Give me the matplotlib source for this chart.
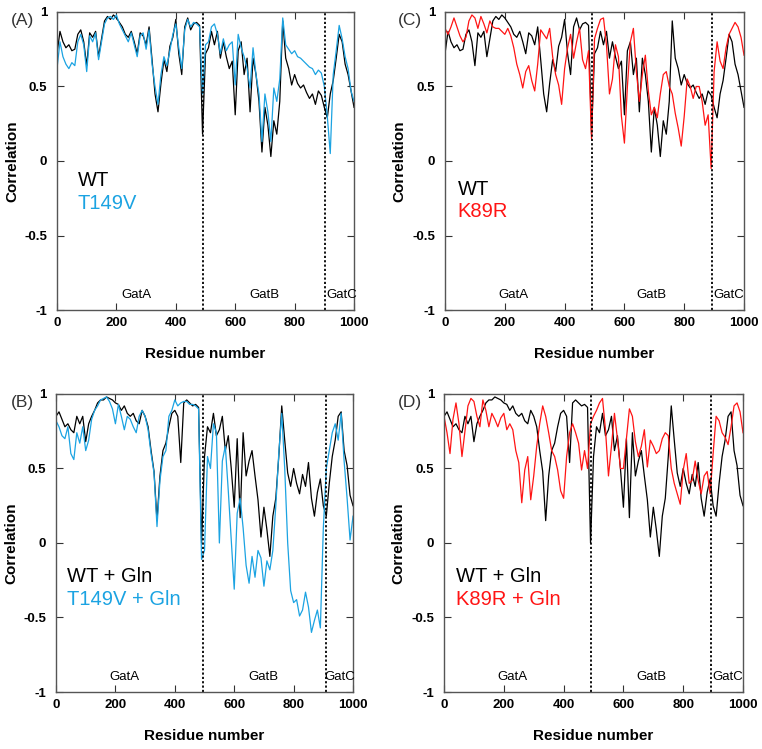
import numpy as np
import matplotlib
matplotlib.use("Agg")
import matplotlib.pyplot as plt

plt.rcParams['font.family'] = ['Liberation Sans', 'DejaVu Sans']

# residue positions (sampled every 10 residues)
residue = np.arange(0, 1001, 10)

wt = [0.72, 0.87, 0.80, 0.76, 0.78, 0.74, 0.75, 0.85, 0.88, 0.80,
      0.64, 0.86, 0.83, 0.87, 0.70, 0.82, 0.94, 0.97, 0.95, 0.98,
      0.96, 0.93, 0.90, 0.85, 0.83, 0.87, 0.80, 0.72, 0.86, 0.84,
      0.78, 0.90, 0.68, 0.45, 0.33, 0.52, 0.68, 0.60, 0.77, 0.83,
      0.95, 0.72, 0.58, 0.90, 0.96, 0.88, 0.92, 0.93, 0.91, 0.18,
      0.72, 0.76, 0.87, 0.78, 0.87, 0.69, 0.80, 0.70, 0.62, 0.67,
      0.31, 0.74, 0.80, 0.58, 0.69, 0.33, 0.69, 0.58, 0.40, 0.06,
      0.36, 0.24, 0.03, 0.27, 0.18, 0.40, 0.94, 0.69, 0.62, 0.51,
      0.58, 0.52, 0.49, 0.51, 0.46, 0.42, 0.45, 0.38, 0.47, 0.44,
      0.36, 0.29, 0.45, 0.54, 0.69, 0.85, 0.80, 0.65, 0.58, 0.47,
      0.36]

t149v = [0.62, 0.80, 0.70, 0.65, 0.62, 0.66, 0.64, 0.80, 0.85, 0.78,
         0.60, 0.84, 0.80, 0.86, 0.68, 0.80, 0.92, 0.96, 0.97, 0.95,
         0.98, 0.92, 0.88, 0.84, 0.80, 0.86, 0.78, 0.70, 0.84, 0.86,
         0.75, 0.88, 0.65, 0.50, 0.38, 0.58, 0.70, 0.64, 0.74, 0.85,
         0.92, 0.76, 0.62, 0.88, 0.95, 0.90, 0.93, 0.92, 0.90, 0.45,
         0.78, 0.80, 0.90, 0.92, 0.85, 0.72, 0.82, 0.74, 0.78, 0.80,
         0.51, 0.85, 0.76, 0.70, 0.62, 0.49, 0.76, 0.58, 0.45, 0.13,
         0.45, 0.33, 0.13, 0.49, 0.40, 0.55, 0.96, 0.78, 0.75, 0.72,
         0.74, 0.70, 0.69, 0.67, 0.65, 0.63, 0.62, 0.58, 0.61, 0.59,
         0.50, 0.30, 0.05, 0.58, 0.74, 0.91, 0.82, 0.70, 0.62, 0.47,
         0.40]

k89r = [0.89, 0.85, 0.90, 0.96, 0.90, 0.84, 0.80, 0.83, 0.94, 0.98,
        0.96, 0.89, 0.97, 0.92, 0.86, 0.94, 0.90, 0.89, 0.89, 0.87,
        0.85, 0.89, 0.84, 0.76, 0.65, 0.58, 0.49, 0.60, 0.64, 0.54,
        0.47, 0.65, 0.88, 0.85, 0.82, 0.89, 0.70, 0.58, 0.51, 0.38,
        0.62, 0.76, 0.85, 0.69, 0.80, 0.89, 0.68, 0.62, 0.74, 0.15,
        0.82, 0.89, 0.95, 0.96, 0.78, 0.45, 0.55, 0.78, 0.70, 0.30,
        0.12, 0.50, 0.80, 0.89, 0.60, 0.40, 0.58, 0.71, 0.47, 0.31,
        0.36, 0.29, 0.45, 0.58, 0.60, 0.50, 0.45, 0.32, 0.22, 0.10,
        0.30, 0.55, 0.50, 0.42, 0.50, 0.50, 0.40, 0.24, 0.31, -0.05,
        0.60, 0.80, 0.67, 0.62, 0.76, 0.85, 0.89, 0.93, 0.90, 0.83,
        0.71]

wt_gln = [0.85, 0.88, 0.83, 0.78, 0.80, 0.76, 0.74, 0.85, 0.80, 0.85,
          0.68, 0.80, 0.85, 0.89, 0.94, 0.96, 0.96, 0.98, 0.97, 0.96,
          0.94, 0.93, 0.89, 0.92, 0.87, 0.85, 0.87, 0.82, 0.80, 0.89,
          0.85, 0.78, 0.62, 0.48, 0.15, 0.45, 0.62, 0.67, 0.78, 0.87,
          0.89, 0.85, 0.54, 0.94, 0.96, 0.94, 0.92, 0.93, 0.91, 0.00,
          0.58, 0.78, 0.74, 0.87, 0.72, 0.76, 0.85, 0.62, 0.72, 0.50,
          0.24, 0.70, 0.17, 0.74, 0.45, 0.55, 0.62, 0.45, 0.29, 0.04,
          0.24, 0.09, -0.09, 0.18, 0.30, 0.58, 0.92, 0.69, 0.47, 0.38,
          0.50, 0.40, 0.33, 0.46, 0.38, 0.54, 0.30, 0.18, 0.34, 0.43,
          0.25, 0.18, 0.40, 0.58, 0.69, 0.85, 0.88, 0.62, 0.52, 0.32,
          0.25]

t149v_gln = [0.82, 0.78, 0.72, 0.70, 0.78, 0.60, 0.56, 0.74, 0.67, 0.78,
             0.62, 0.69, 0.83, 0.89, 0.92, 0.96, 0.97, 0.98, 0.95, 0.90,
             0.80, 0.93, 0.85, 0.76, 0.85, 0.83, 0.78, 0.74, 0.85, 0.89,
             0.85, 0.76, 0.60, 0.47, 0.11, 0.42, 0.58, 0.62, 0.85, 0.89,
             0.96, 0.92, 0.94, 0.95, 0.95, 0.93, 0.93, 0.92, 0.90, -0.11,
             -0.05, 0.58, 0.50, 0.80, 0.74, 0.00, 0.55, 0.65, 0.35, 0.02,
             -0.31, 0.20, 0.30, 0.10, -0.15, -0.27, -0.09, -0.23, -0.05, -0.10,
             -0.29, -0.12, -0.18, -0.05, 0.25, 0.60, 0.87, 0.50, 0.00, -0.32,
             -0.40, -0.38, -0.49, -0.45, -0.33, -0.43, -0.60, -0.52, -0.45, -0.57,
             0.10, 0.50, 0.62, 0.74, 0.80, 0.69, 0.87, 0.55, 0.30, 0.02,
             0.18]

k89r_gln = [0.85, 0.74, 0.60, 0.83, 0.94, 0.80, 0.58, 0.75, 0.92, 0.97,
            0.95, 0.85, 0.78, 0.96, 0.89, 0.78, 0.87, 0.83, 0.78, 0.84,
            0.87, 0.76, 0.80, 0.76, 0.62, 0.54, 0.27, 0.49, 0.58, 0.29,
            0.45, 0.65, 0.80, 0.92, 0.85, 0.74, 0.62, 0.58, 0.49, 0.35,
            0.30, 0.58, 0.74, 0.80, 0.74, 0.67, 0.49, 0.62, 0.50, 0.80,
            0.85, 0.89, 0.94, 0.97, 0.76, 0.45, 0.65, 0.87, 0.70, 0.50,
            0.50, 0.70, 0.90, 0.85, 0.68, 0.58, 0.65, 0.76, 0.51, 0.69,
            0.65, 0.60, 0.62, 0.70, 0.74, 0.72, 0.50, 0.40, 0.33, 0.26,
            0.49, 0.60, 0.40, 0.42, 0.55, 0.42, 0.33, 0.45, 0.48, 0.33,
            0.60, 0.85, 0.82, 0.74, 0.71, 0.66, 0.78, 0.92, 0.94, 0.88,
            0.74]

BLUE = '#1ba3e2'
RED = '#ff1414'

fig = plt.figure(figsize=(7.62, 7.49), dpi=100)

panels = [
    # tag, rect, black series, colour series, colour, labels, boundaries,
    # domain label x, label y (axes frac), label x, tag position
    ('(A)', [0.0748, 0.5861, 0.3898, 0.3979], wt, t149v, BLUE,
     ('WT', 'T149V'), (492, 903), (266, 700, 908), (0.436, 0.359), 0.07, (0.030, 0.972)),
    ('(C)', [0.5840, 0.5861, 0.3924, 0.3979], wt, k89r, RED,
     ('WT', 'K89R'), (492, 893), (230, 692, 896), (0.406, 0.329), 0.043, (0.538, 0.972)),
    ('(B)', [0.0735, 0.0761, 0.3898, 0.3979], wt_gln, t149v_gln, BLUE,
     ('WT + Gln', 'T149V + Gln'), (496, 908), (231, 698, 904), (0.386, 0.309), 0.037, (0.030, 0.463)),
    ('(D)', [0.5827, 0.0761, 0.3924, 0.3979], wt_gln, k89r_gln, RED,
     ('WT + Gln', 'K89R + Gln'), (492, 893), (230, 693, 898), (0.386, 0.309), 0.04, (0.538, 0.463)),
]

for tag, rect, black, col, color, labels, bounds, dom_x, lab_y, lab_x, tag_xy in panels:
    ax = fig.add_axes(rect)
    ax.plot(residue, black, color='black', lw=0.9)
    ax.plot(residue, col, color=color, lw=0.9)

    for b in bounds:
        ax.axvline(b, color='black', ls=(0, (1.2, 1.2)), lw=1.3)

    ax.text(dom_x[0], -0.9, 'GatA', ha='center', va='center', fontsize=9.5)
    ax.text(dom_x[1], -0.9, 'GatB', ha='center', va='center', fontsize=9.5)
    ax.text(dom_x[2], -0.9, 'GatC', ha='left', va='center', fontsize=9.5)

    ax.text(lab_x, lab_y[0], labels[0], transform=ax.transAxes, color='black',
            fontsize=14.5, va='center', ha='left')
    ax.text(lab_x, lab_y[1], labels[1], transform=ax.transAxes, color=color,
            fontsize=14.5, va='center', ha='left')

    ax.set_xlim(0, 1000)
    ax.set_ylim(-1, 1)
    ax.set_xticks([0, 200, 400, 600, 800, 1000])
    ax.set_yticks([-1, -0.5, 0, 0.5, 1])
    ax.set_yticklabels(['-1', '-0.5', '0', '0.5', '1'])
    ax.tick_params(direction='in', top=True, right=True, length=5, width=0.8,
                   labelsize=9.5, colors='#333333', labelcolor='black')
    ax.tick_params(axis='y', pad=7)
    ax.tick_params(axis='x', pad=5)
    for lbl in ax.get_xticklabels() + ax.get_yticklabels():
        lbl.set_fontweight('bold')
    for s in ax.spines.values():
        s.set_color('#555555')
        s.set_linewidth(1.0)

    ax.set_xlabel('Residue number', fontsize=11, fontweight='bold')
    ax.set_ylabel('Correlation', fontsize=11, fontweight='bold')
    ax.xaxis.set_label_coords(0.5, -0.125)
    ax.yaxis.set_label_coords(-0.128, 0.5)

    fig.text(tag_xy[0], tag_xy[1], tag, fontsize=12.5, color='#333333',
             ha='center', va='center')

fig.savefig('out.png', dpi=100)
